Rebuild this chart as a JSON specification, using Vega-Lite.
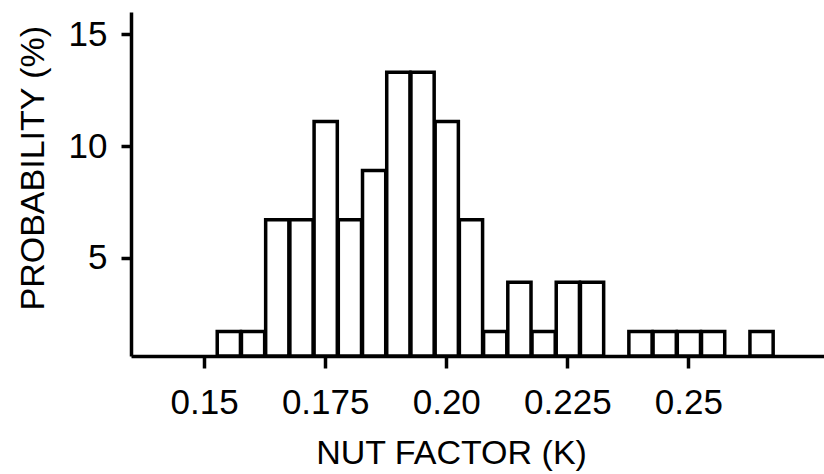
{
  "$schema": "https://vega.github.io/schema/vega-lite/v6.json",
  "width": 693,
  "height": 344,
  "autosize": "none",
  "padding": {"left": 131, "top": 12, "right": 0, "bottom": 118},
  "background": "white",
  "config": {
    "view": {"stroke": null},
    "axis": {
      "grid": false,
      "domainColor": "black",
      "domainWidth": 3.5,
      "tickColor": "black",
      "tickWidth": 3.5,
      "labelColor": "black",
      "titleColor": "black",
      "labelFont": "Liberation Sans",
      "labelFontSize": 35,
      "titleFont": "Liberation Sans",
      "titleFontSize": 34,
      "titleFontWeight": "normal",
      "labelFlush": false,
      "labelOverlap": false
    }
  },
  "data": {
    "values": [
      {"k0": 0.1525, "k1": 0.1575, "pct": 1.7},
      {"k0": 0.1575, "k1": 0.1625, "pct": 1.7},
      {"k0": 0.1625, "k1": 0.1675, "pct": 6.7},
      {"k0": 0.1675, "k1": 0.1725, "pct": 6.7},
      {"k0": 0.1725, "k1": 0.1775, "pct": 11.1},
      {"k0": 0.1775, "k1": 0.1825, "pct": 6.7},
      {"k0": 0.1825, "k1": 0.1875, "pct": 8.9},
      {"k0": 0.1875, "k1": 0.1925, "pct": 13.3},
      {"k0": 0.1925, "k1": 0.1975, "pct": 13.3},
      {"k0": 0.1975, "k1": 0.2025, "pct": 11.1},
      {"k0": 0.2025, "k1": 0.2075, "pct": 6.7},
      {"k0": 0.2075, "k1": 0.2125, "pct": 1.7},
      {"k0": 0.2125, "k1": 0.2175, "pct": 3.9},
      {"k0": 0.2175, "k1": 0.2225, "pct": 1.7},
      {"k0": 0.2225, "k1": 0.2275, "pct": 3.9},
      {"k0": 0.2275, "k1": 0.2325, "pct": 3.9},
      {"k0": 0.2375, "k1": 0.2425, "pct": 1.7},
      {"k0": 0.2425, "k1": 0.2475, "pct": 1.7},
      {"k0": 0.2475, "k1": 0.2525, "pct": 1.7},
      {"k0": 0.2525, "k1": 0.2575, "pct": 1.7},
      {"k0": 0.2625, "k1": 0.2675, "pct": 1.7}
    ]
  },
  "mark": {"type": "bar", "fill": "white", "stroke": "black", "strokeWidth": 3.5, "strokeJoin": "miter"},
  "encoding": {
    "x": {
      "field": "k0",
      "type": "quantitative",
      "bin": {"binned": true},
      "scale": {"domain": [0.1349, 0.278], "nice": false, "zero": false},
      "axis": {
        "values": [0.15, 0.175, 0.2, 0.225, 0.25],
        "labelExpr": "abs(datum.value - 0.2) < 1e-6 ? '0.20' : format(datum.value, '.3~f')",
        "tickSize": 12,
        "labelPadding": 17,
        "title": "NUT FACTOR (K)",
        "titleBaseline": "alphabetic",
        "titleAnchor": "start",
        "titleAlign": "center",
        "titleX": 320,
        "titleY": 107
      }
    },
    "x2": {"field": "k1"},
    "y": {
      "field": "pct",
      "type": "quantitative",
      "scale": {"domain": [0.6, 16.0], "nice": false, "zero": false},
      "axis": {
        "values": [5, 10, 15],
        "tickSize": 10,
        "labelPadding": 14,
        "title": "PROBABILITY (%)",
        "titleAngle": -90,
        "titleAlign": "left",
        "titleBaseline": "alphabetic",
        "titleX": -88,
        "titleY": 298
      }
    },
    "y2": {"datum": 0.6}
  }
}
